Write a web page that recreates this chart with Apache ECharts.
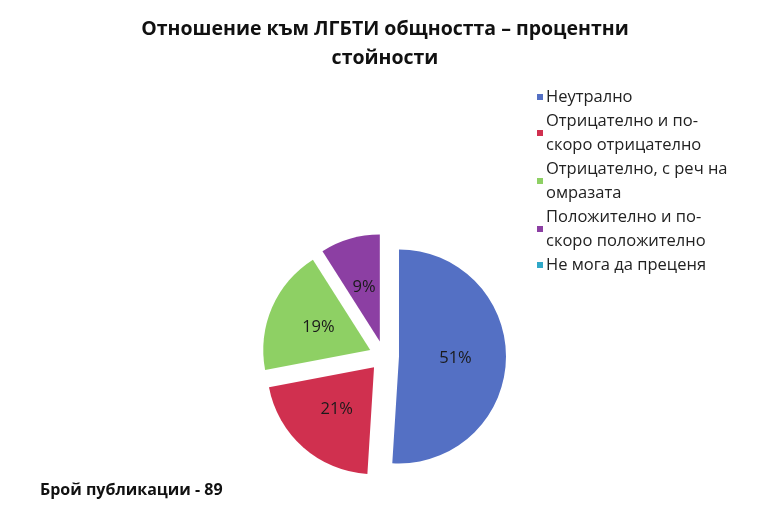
<!DOCTYPE html>
<html>
<head>
<meta charset="utf-8">
<script src="https://cdn.jsdelivr.net/npm/echarts@6/dist/echarts.min.js"></script>
<style>
html,body{margin:0;padding:0;background:#fff;}
#c{width:770px;height:528px;}
</style>
</head>
<body>
<div id="c"></div>
<script>
const categories = ['Неутрално', 'Отрицателно и по-скоро отрицателно', 'Отрицателно, с реч на омразата', 'Положително и по-скоро положително', 'Не мога да преценя'];
const legendLabels = ['Неутрално', 'Отрицателно и по-\nскоро отрицателно', 'Отрицателно, с реч на\nомразата', 'Положително и по-\nскоро положително', 'Не мога да преценя'];
const values = [51, 21, 19, 9, 0];
const colors = ['#5470C4', '#D0304F', '#8ED064', '#8C3FA3', '#30A8C8'];
const titleText = 'Отношение към ЛГБТИ общността – процентни\nстойности';
const footText = 'Брой публикации - 89';

const FONT = '"Open Sans", "Noto Sans", sans-serif';
const chart = echarts.init(document.getElementById('c'), null, {renderer: 'canvas'});
const data = categories.map((n, i) => ({
  name: n,
  value: values[i],
  selected: true,
  itemStyle: {color: colors[i]},
  label: {show: values[i] > 0}
}));
chart.setOption({
  animation: false,
  color: colors,
  title: [{
    text: titleText,
    left: 'center',
    top: 10,
    textStyle: {fontFamily: FONT, fontWeight: 'bold', fontSize: 19.5, lineHeight: 29, color: '#111'}
  }, {
    text: footText,
    left: 35,
    top: 477,
    textStyle: {fontFamily: FONT, fontWeight: 'bold', fontSize: 16, color: '#111'}
  }],
  legend: {
    orient: 'vertical',
    left: 532,
    top: 80,
    icon: 'rect',
    itemWidth: 6,
    itemHeight: 6,
    itemGap: 0,
    selectedMode: false,
    formatter: function (name) { return legendLabels[categories.indexOf(name)]; },
    textStyle: {fontFamily: FONT, fontSize: 16.5, lineHeight: 24, color: '#222', padding: [0, 0, 0, -2]},
    data: categories
  },
  series: [{
    type: 'pie',
    center: [384, 356],
    radius: 107,
    startAngle: 90,
    clockwise: true,
    selectedMode: 'multiple',
    selectedOffset: 15,
    avoidLabelOverlap: false,
    select: {itemStyle: {}},
    emphasis: {disabled: true},
    label: {
      position: 'inside',
      formatter: function (p) { return p.value > 0 ? p.value + '%' : ''; },
      fontFamily: FONT,
      fontSize: 16.5,
      color: '#1a1a1a'
    },
    labelLine: {show: false},
    data: data
  }]
});
</script>
</body>
</html>
